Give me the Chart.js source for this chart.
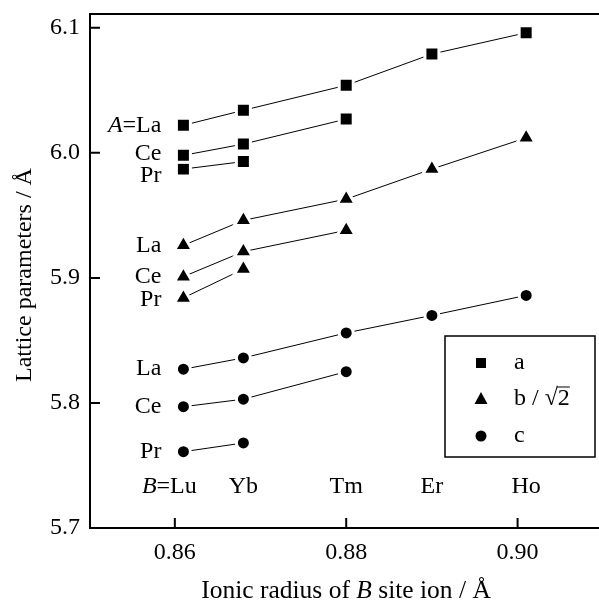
<!DOCTYPE html>
<html>
<head>
<meta charset="utf-8">
<script src="https://cdn.jsdelivr.net/npm/chart.js@4.4.1/dist/chart.umd.min.js"></script>
<style>
  body { margin: 0; background: #fff; }
  #wrap { width: 599px; height: 602px; }
</style>
</head>
<body>
<div id="wrap"><canvas id="latticeChart" width="599" height="602"></canvas></div>
<script>
// ionic radius of the B site ion (x) and element names
const radii = [0.861, 0.868, 0.880, 0.890, 0.901];
const bSite = ['Lu', 'Yb', 'Tm', 'Er', 'Ho'];
const aSite = ['La', 'Ce', 'Pr'];

// lattice parameter a
const aLa = [6.022, 6.034, 6.054, 6.079, 6.096];
const aCe = [5.998, 6.007, 6.027];
const aPr = [5.987, 5.993];
// b / sqrt(2)
const bLa = [5.926, 5.946, 5.963, 5.987, 6.012];
const bCe = [5.901, 5.921, 5.938];
const bPr = [5.884, 5.907];
// c
const cLa = [5.827, 5.836, 5.856, 5.870, 5.886];
const cCe = [5.797, 5.803, 5.825];
const cPr = [5.761, 5.768];

const yTicks = [5.7, 5.8, 5.9, 6.0, 6.1];
const xTicks = [0.86, 0.88, 0.90];

const SERIF = '"Liberation Serif", "Times New Roman", serif';
const FS = 24;

function series(values, style, radius) {
    return {
        data: values.map((v, i) => ({ x: radii[i], y: v })),
        showLine: true,
        borderColor: '#000',
        borderWidth: 1,
        pointStyle: style,
        pointRadius: radius,
        pointBackgroundColor: '#000',
        pointBorderColor: '#fff',
        pointBorderWidth: 3
    };
}

// text with italic pieces, e.g. [{t:'A', i:true}, {t:'=La'}]
function drawRich(ctx, parts, x, y, align, size) {
    const fs = size || FS;
    const fonts = parts.map(p => (p.i ? 'italic ' : '') + fs + 'px ' + SERIF);
    const widths = parts.map((p, k) => { ctx.font = fonts[k]; return ctx.measureText(p.t).width; });
    const total = widths.reduce((a, b) => a + b, 0);
    let cx = align === 'right' ? x - total : align === 'center' ? x - total / 2 : x;
    ctx.textAlign = 'left';
    ctx.textBaseline = 'middle';
    parts.forEach((p, k) => {
        ctx.font = fonts[k];
        ctx.fillText(p.t, cx, y);
        cx += widths[k];
    });
}

// small vertical nudges so the A-site names do not collide
const labelShift = [0, -2, 7, 0, 0, 2, 0, 0, 0];

const decorations = {
    id: 'decorations',
    afterDraw(chart) {
        const ctx = chart.ctx;
        const area = chart.chartArea;
        const xs = chart.scales.x;
        const ys = chart.scales.y;
        ctx.save();
        ctx.fillStyle = '#000';
        ctx.strokeStyle = '#000';

        // top frame line and inward tick marks
        ctx.lineWidth = 2;
        ctx.beginPath();
        ctx.moveTo(area.left, area.top);
        ctx.lineTo(area.right, area.top);
        yTicks.forEach(v => {
            const py = ys.getPixelForValue(v);
            ctx.moveTo(area.left, py);
            ctx.lineTo(area.left + 10, py);
        });
        xTicks.forEach(v => {
            const px = xs.getPixelForValue(v);
            ctx.moveTo(px, area.bottom);
            ctx.lineTo(px, area.bottom - 10);
        });
        ctx.stroke();

        // A-site labels left of the first point of each series
        chart.data.datasets.forEach((ds, i) => {
            const pt = chart.getDatasetMeta(i).data[0];
            const name = aSite[i % 3];
            const parts = i === 0 ? [{ t: 'A', i: true }, { t: '=' + name }] : [{ t: name }];
            drawRich(ctx, parts, pt.x - 22, pt.y + labelShift[i], 'right');
        });

        // B-site labels along the bottom
        const by = area.bottom - 41;
        bSite.forEach((name, i) => {
            const px = xs.getPixelForValue(radii[i]);
            drawRich(ctx, [{ t: name }], px, by, 'center');
            if (i === 0) {
                ctx.font = FS + 'px ' + SERIF;
                const w = ctx.measureText(name).width;
                drawRich(ctx, [{ t: 'B', i: true }, { t: '=' }], px - w / 2, by, 'right');
            }
        });

        // axis titles
        drawRich(ctx, [{ t: 'Ionic radius of ' }, { t: 'B', i: true }, { t: ' site ion / Å' }],
            346, 591, 'center', 25.5);
        ctx.save();
        ctx.translate(25, 275);
        ctx.rotate(-Math.PI / 2);
        drawRich(ctx, [{ t: 'Lattice parameters / Å' }], 0, 0, 'center');
        ctx.restore();

        // legend box
        ctx.lineWidth = 1.5;
        ctx.strokeRect(445, 336, 150, 121);
        const mx = 481, tx = 514;
        const rows = [363, 399, 436];
        ctx.fillRect(mx - 5, rows[0] - 5, 10, 10);
        ctx.beginPath();
        ctx.moveTo(mx, rows[1] - 7);
        ctx.lineTo(mx + 6.5, rows[1] + 5);
        ctx.lineTo(mx - 6.5, rows[1] + 5);
        ctx.closePath();
        ctx.fill();
        ctx.beginPath();
        ctx.arc(mx, rows[2], 5.5, 0, Math.PI * 2);
        ctx.fill();
        drawRich(ctx, [{ t: 'a' }], tx, rows[0], 'left');
        drawRich(ctx, [{ t: 'c' }], tx, rows[2], 'left');
        ctx.font = FS + 'px ' + SERIF;
        const pre = 'b / √';
        const wPre = ctx.measureText(pre).width;
        const wTwo = ctx.measureText('2').width;
        drawRich(ctx, [{ t: pre }, { t: '2' }], tx, rows[1], 'left');
        ctx.lineWidth = 1;
        ctx.beginPath();
        ctx.moveTo(tx + wPre - 1, rows[1] - 12);
        ctx.lineTo(tx + wPre + wTwo, rows[1] - 12);
        ctx.stroke();

        ctx.restore();
    }
};

new Chart(document.getElementById('latticeChart').getContext('2d'), {
    type: 'scatter',
    data: {
        datasets: [
            series(aLa, 'rect', 9.9), series(aCe, 'rect', 9.9), series(aPr, 'rect', 9.9),
            series(bLa, 'triangle', 10.5), series(bCe, 'triangle', 10.5), series(bPr, 'triangle', 10.5),
            series(cLa, 'circle', 7), series(cCe, 'circle', 7), series(cPr, 'circle', 7)
        ]
    },
    options: {
        responsive: false,
        animation: false,
        events: [],
        devicePixelRatio: 1,
        layout: { autoPadding: false, padding: { top: 14, left: 0, right: 0, bottom: 0 } },
        plugins: {
            legend: { display: false },
            tooltip: { enabled: false }
        },
        scales: {
            x: {
                type: 'linear',
                min: 0.8501,
                max: 0.9095,
                afterFit: s => { s.height = 74; s.paddingLeft = 0; s.paddingRight = 0; },
                afterBuildTicks: s => { s.ticks = xTicks.map(v => ({ value: v })); },
                grid: { display: false, drawTicks: false },
                border: { display: true, color: '#000', width: 2 },
                ticks: {
                    padding: 10,
                    color: '#000',
                    maxRotation: 0,
                    font: { family: SERIF, size: FS },
                    callback: v => v.toFixed(2)
                }
            },
            y: {
                min: 5.7,
                max: 6.111,
                afterFit: s => { s.width = 90; s.paddingTop = 0; s.paddingBottom = 0; },
                afterBuildTicks: s => { s.ticks = yTicks.map(v => ({ value: v })); },
                grid: { display: false, drawTicks: false },
                border: { display: true, color: '#000', width: 2 },
                ticks: {
                    padding: 10,
                    color: '#000',
                    font: { family: SERIF, size: FS },
                    callback: v => v.toFixed(1)
                }
            }
        }
    },
    plugins: [decorations]
});
</script>
</body>
</html>
